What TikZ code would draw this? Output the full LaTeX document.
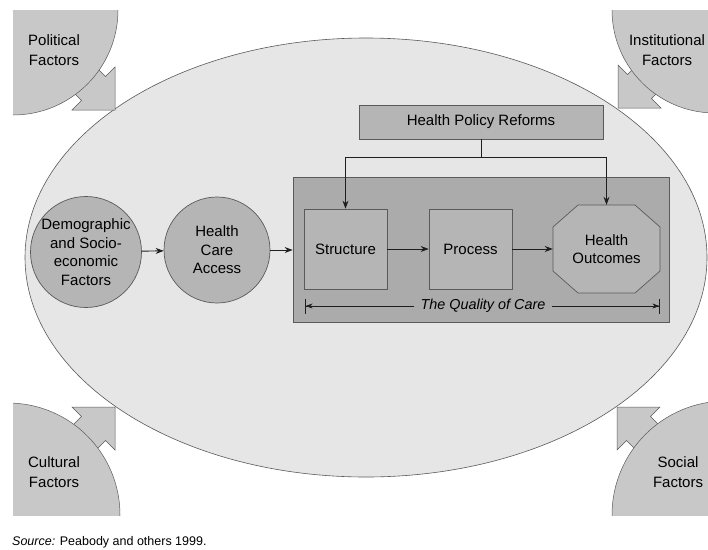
\documentclass[tikz,border=0pt]{standalone}
\usepackage{fontspec}
\setmainfont{Liberation Sans}
\usepackage{xcolor}
\usetikzlibrary{arrows.meta,calc,positioning}
\definecolor{ovalgrey}{HTML}{E6E6E6}
\definecolor{cornergrey}{HTML}{C8C8C8}
\definecolor{careframe}{HTML}{ABABAB}
\definecolor{stagegrey}{HTML}{B5B5B5}
\definecolor{edgegrey}{HTML}{5A5A5A}
\definecolor{inkline}{HTML}{1E1E1E}

\begin{document}
\begin{tikzpicture}[x=1pt, y=-1pt,
    every node/.style={font=\fontsize{15}{18.5}\selectfont, align=center, inner sep=0pt},
    oval/.style={fill=ovalgrey, draw=edgegrey, line width=0.6pt},
    corner/.style={fill=cornergrey, draw=edgegrey, line width=0.5pt},
    cornertext/.style={font=\fontsize{15}{20}\selectfont},
    pusharrow/.style={fill=cornergrey, draw=edgegrey, line width=0.5pt, line join=miter},
    factor/.style={circle, fill=stagegrey, draw=edgegrey, line width=0.7pt},
    stagebox/.style={rectangle, fill=stagegrey, draw=edgegrey, line width=0.7pt},
    flow/.style={draw=inkline, line width=0.9pt, -{Stealth[length=8pt,width=6pt]}},
    span/.style={draw=inkline, line width=0.6pt, -{Stealth[length=7pt,width=5pt] Bar[width=15pt]}}
]
\fill[white] (0,0) rectangle (708,549);
\useasboundingbox (0,0) rectangle (708,549);

\draw[oval] (366,257.5) ellipse [x radius=341, y radius=219.5];

% push arrows, tip on the oval
\foreach \tx/\ty/\sx/\sy in {115/110/1/1, 618/108/-1/1, 115/407/1/-1, 617/407/-1/-1}
    \draw[pusharrow, shift={(\tx,\ty)}, xscale=\sx, yscale=\sy]
        (0,0) -- (0,-43) -- (-9.5,-33.5) -- (-34.5,-58.5) -- (-58.5,-34.5) -- (-33.5,-9.5) -- (-43,0) -- cycle;

\begin{scope}
    \clip (13,10) rectangle (708,515);
    \draw[corner] (13,10) circle[radius=105];
    \draw[corner] (715,10) circle[radius=103];
    \draw[corner] (8,515) circle[radius=112];
    \draw[corner] (726,515) circle[radius=114];
\end{scope}
\node[cornertext] (political) at (54,50) {Political\\Factors};
\node[cornertext] (institutional) at (667,50) {Institutional\\Factors};
\node[cornertext] (cultural) at (54,472) {Cultural\\Factors};
\node[cornertext] (social) at (678,472) {Social\\Factors};

\node[factor, minimum size=111pt] (demo) at (86,252) {Demographic\\and Socio-\\economic\\Factors};
\node[factor, minimum size=106pt] (access) at (217,250) {Health\\Care\\Access};

\node[stagebox, fill=careframe, minimum width=376pt, minimum height=145pt] (quality) at (481,249.5) {};
\node[stagebox, minimum width=244pt, minimum height=34pt] (policy) at (481,122) {Health Policy Reforms};
\node[stagebox, minimum width=83pt, minimum height=80pt] (structure) at (345.5,249) {Structure};
\node[stagebox, minimum width=83pt, minimum height=80pt] (process) at (470.5,249) {Process};
\draw[stagebox, shift={(606.5,249)}]
    (-28.5,-44) -- (28.5,-44) -- (53.5,-22) -- (53.5,22) -- (28.5,44) -- (-28.5,44) -- (-53.5,22) -- (-53.5,-22) -- cycle;
\node[minimum width=107pt, minimum height=88pt] (outcomes) at (606.5,249) {Health\\Outcomes};

\draw[flow] (demo) -- (access);
\draw[flow] (access) -- (access -| quality.west);
\draw[flow] (structure) -- (process);
\draw[flow] (process) -- (outcomes);

\coordinate[below=18pt of policy] (split);
\draw[inkline, line width=0.9pt] (policy) -- (split);
\draw[flow] (split) -| (structure);
\draw[flow] (split) -| (outcomes);

\node[font=\itshape\fontsize{14.4}{17}\selectfont, inner xsep=6pt, inner ysep=1pt] (caretag) at (483,306) {The Quality of Care};
\coordinate (careL) at (305,306);
\coordinate (careR) at (660,306);
\draw[span] (caretag) -- (careL);
\draw[span] (caretag) -- (careR);

\node[anchor=base west, font=\fontsize{12.5}{15}\selectfont] (source) at (12,545) {\textit{Source:} Peabody and others 1999.};
\end{tikzpicture}
\end{document}
